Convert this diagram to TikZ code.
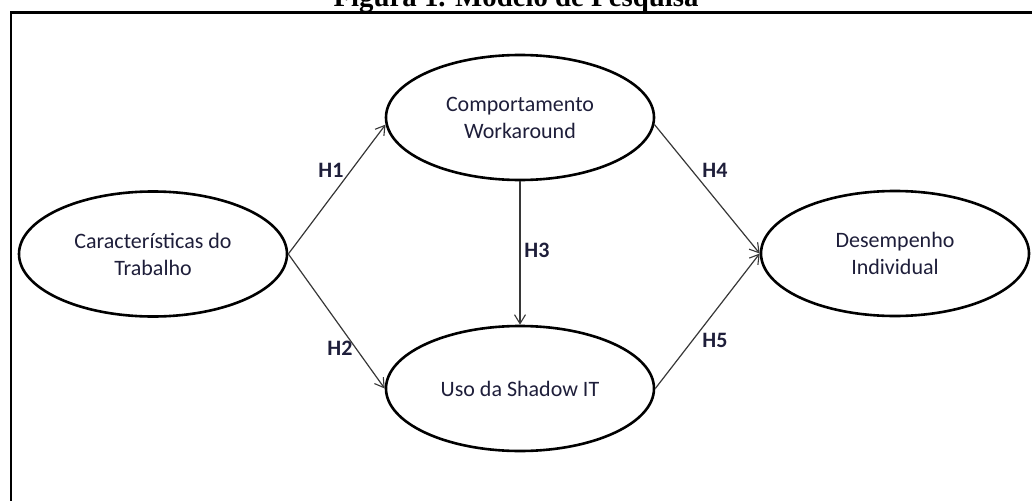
\documentclass[tikz,border=0pt]{standalone}
\usepackage{fontspec}
\setmainfont{Carlito}
\newfontfamily\titlefont{Liberation Serif}
\usetikzlibrary{shapes.geometric,arrows.meta}
\definecolor{ink}{RGB}{30,30,58}
\definecolor{wire}{RGB}{55,55,55}
\begin{document}
\begin{tikzpicture}[x=1pt,y=-1pt,
  construct/.style={ellipse,draw=black,line width=2.6pt,minimum width=268pt,minimum height=125pt,
    inner sep=0pt,align=center,font=\fontsize{22}{27}\selectfont,text=ink},
  link/.style={draw=wire,line width=1.2pt,-{Straight Barb[length=9pt,width=11pt,line width=1.1pt]}},
  hyp/.style={font=\bfseries\fontsize{22}{27}\selectfont,text=ink,inner sep=0pt}]
\useasboundingbox (0,0) rectangle (1032,500);

% caption above the frame
\node[anchor=base,inner sep=0pt,font=\titlefont\bfseries\fontsize{28.8}{30}\selectfont] (title) at (516,7) {Figura 1. Modelo de Pesquisa};
% frame around the model
\draw[line width=2.8pt] (1045,12.5) -- (11,12.5) -- (11,515);

% constructs
\node[construct] (carac) at (153,254) {Características do\\Trabalho};
\node[construct] (comp)  at (520,117.5) {Comportamento\\Workaround};
\node[construct] (shadow) at (520,388.5) {Uso da Shadow IT};
\node[construct] (desemp) at (895,253.5) {Desempenho\\Individual};

% hypotheses
\draw[link] (carac.east) -- (comp.183);
\draw[link] (carac.east) -- (shadow.west);
\draw[link] (comp.south) -- (shadow.north);
\draw[link] (comp.-3) -- (desemp.west);
\draw[link] (shadow.east) -- (desemp.west);

\node[hyp] (h1) at (331,170) {H1};
\node[hyp] (h2) at (340,348) {H2};
\node[hyp] (h3) at (537,250) {H3};
\node[hyp] (h4) at (715,170) {H4};
\node[hyp] (h5) at (715,340) {H5};
\end{tikzpicture}
\end{document}
